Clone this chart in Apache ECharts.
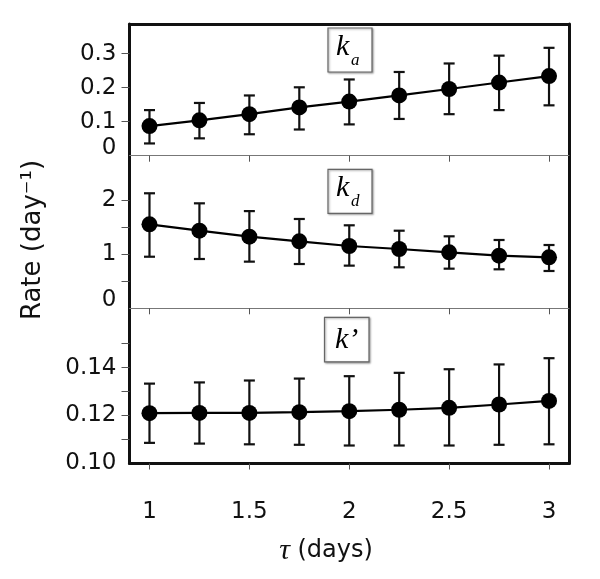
<!DOCTYPE html>
<html><head><meta charset="utf-8">
<script src="https://cdn.jsdelivr.net/npm/echarts@6/dist/echarts.min.js"></script>
<style>html,body{margin:0;padding:0;background:#fff}#c{width:600px;height:579px}</style>
</head><body><div id="c"></div>
<script>
// ---- data ----
const tau = [1, 1.25, 1.5, 1.75, 2, 2.25, 2.5, 2.75, 3];
const xTickValues = [1, 1.5, 2, 2.5, 3];
const xTickLabels = ['1', '1.5', '2', '2.5', '3'];

const ka     = [0.087, 0.104, 0.122, 0.142, 0.159, 0.177, 0.196, 0.215, 0.234];
const kaLow  = [0.036, 0.051, 0.063, 0.077, 0.092, 0.108, 0.122, 0.134, 0.148];
const kaHigh = [0.134, 0.155, 0.177, 0.201, 0.224, 0.246, 0.271, 0.294, 0.317];

const kd     = [1.555, 1.437, 1.326, 1.240, 1.154, 1.098, 1.037, 0.975, 0.944];
const kdLow  = [0.955, 0.913, 0.864, 0.820, 0.790, 0.759, 0.734, 0.722, 0.691];
const kdHigh = [2.130, 1.944, 1.800, 1.654, 1.537, 1.437, 1.333, 1.265, 1.172];

const kp     = [0.1210, 0.1211, 0.1211, 0.1214, 0.1218, 0.1224, 0.1232, 0.1246, 0.1261];
const kpLow  = [0.1086, 0.1083, 0.1080, 0.1078, 0.1075, 0.1075, 0.1075, 0.1078, 0.1080];
const kpHigh = [0.1333, 0.1338, 0.1346, 0.1354, 0.1364, 0.1378, 0.1393, 0.1413, 0.1439];

const kaTickValues = [0.1, 0.2, 0.3];
const kaLabelValues = [0, 0.1, 0.2, 0.3];
const kaLabels = ['0', '0.1', '0.2', '0.3'];
const kdTickValues = [0.5, 1, 1.5, 2];
const kdLabelValues = [0, 1, 2];
const kdLabels = ['0', '1', '2'];
const kpTickValues = [0.11, 0.12, 0.13, 0.14, 0.15];
const kpLabelValues = [0.10, 0.12, 0.14];
const kpLabels = ['0.10', '0.12', '0.14'];

const panelNames = ['k', 'k', 'k’'];
const panelSubs = ['a', 'd', ''];
const yTitle = 'Rate (day⁻¹)';
const xTitle = ' (days)';

// ---- layout ----
const LEFT = 129.5, WIDTH = 439.5;
const panels = [
  {top: 24, height: 131.7, min: 0, max: 0.387, ticks: kaTickValues, lv: kaLabelValues, lt: kaLabels},
  {top: 155.7, height: 152.6, min: 0, max: 2.826, ticks: kdTickValues, lv: kdLabelValues, lt: kdLabels},
  {top: 308.3, height: 155.2, min: 0.10, max: 0.1647, ticks: kpTickValues, lv: kpLabelValues, lt: kpLabels}
];
const FONT = 'DejaVu Sans';
const BLACK = '#111';

const grid = panels.map(p => ({left: LEFT, width: WIDTH, top: p.top, height: p.height, containLabel: false}));

const xAxis = panels.map((p, i) => ({
  type: 'value', gridIndex: i, min: 0.9, max: 3.1, position: 'bottom',
  splitLine: {show: false},
  axisLine: {show: true, onZero: false, lineStyle: i === 2 ? {color: BLACK, width: 3} : {color: '#777', width: 1}},
  axisTick: {show: true, inside: false, length: 6, customValues: xTickValues, lineStyle: {color: '#555', width: 1}},
  axisLabel: {show: i === 2, customValues: xTickValues, margin: 37, color: BLACK, fontFamily: FONT, fontSize: 23,
    formatter: v => { const k = xTickValues.findIndex(t => Math.abs(t - v) < 1e-9); return k >= 0 ? xTickLabels[k] : ''; }}
}));
xAxis.push({
  type: 'value', gridIndex: 0, min: 0.9, max: 3.1, position: 'top',
  splitLine: {show: false}, axisTick: {show: false}, axisLabel: {show: false},
  axisLine: {show: true, onZero: false, lineStyle: {color: BLACK, width: 3}}
});

const yAxis = panels.map((p, i) => ({
  type: 'value', gridIndex: i, min: p.min, max: p.max, position: 'left',
  splitLine: {show: false},
  axisLine: {show: true, onZero: false, lineStyle: {color: BLACK, width: 3}},
  axisTick: {show: true, inside: false, length: 8, customValues: p.ticks, lineStyle: {color: '#555', width: 1}},
  axisLabel: {show: true, customValues: p.lv, margin: 13, color: BLACK, fontFamily: FONT, fontSize: 23,
    formatter: v => {
      const k = p.lv.findIndex(t => Math.abs(t - v) < 1e-9);
      if (k < 0) return '';
      return (i < 2 && k === 0) ? '{up|' + p.lt[k] + '}' : p.lt[k];
    },
    rich: {up: {fontFamily: FONT, fontSize: 23, color: BLACK, padding: [0, 0, 16, 0]}}
  }
}));
panels.forEach((p, i) => yAxis.push({
  type: 'value', gridIndex: i, min: p.min, max: p.max, position: 'right',
  splitLine: {show: false}, axisTick: {show: false}, axisLabel: {show: false},
  axisLine: {show: true, onZero: false, lineStyle: {color: BLACK, width: 3}}
}));

function errSeries(idx, low, high) {
  return {
    type: 'custom', xAxisIndex: idx, yAxisIndex: idx, z: 2, silent: true,
    data: tau.map((t, i) => [t, low[i], high[i]]),
    encode: {x: 0, y: [1, 2]},
    renderItem(params, api) {
      const x = api.value(0);
      const lo = api.coord([x, api.value(1)]);
      const hi = api.coord([x, api.value(2)]);
      const w = 5.5;
      const style = {stroke: BLACK, lineWidth: 2.2};
      return {type: 'group', children: [
        {type: 'line', shape: {x1: lo[0], y1: lo[1], x2: hi[0], y2: hi[1]}, style},
        {type: 'line', shape: {x1: lo[0] - w, y1: lo[1], x2: lo[0] + w, y2: lo[1]}, style},
        {type: 'line', shape: {x1: hi[0] - w, y1: hi[1], x2: hi[0] + w, y2: hi[1]}, style}
      ]};
    }
  };
}
function lineSeries(idx, vals) {
  return {
    type: 'line', xAxisIndex: idx, yAxisIndex: idx, z: 5, silent: true,
    data: tau.map((t, i) => [t, vals[i]]),
    symbol: 'circle', symbolSize: 16, showSymbol: true,
    itemStyle: {color: '#000'}, lineStyle: {color: '#000', width: 2.2}
  };
}

const series = [
  errSeries(0, kaLow, kaHigh), lineSeries(0, ka),
  errSeries(1, kdLow, kdHigh), lineSeries(1, kd),
  errSeries(2, kpLow, kpHigh), lineSeries(2, kp)
];

// ---- annotation boxes ----
const boxes = [
  {x: 328, y: 28, w: 44, h: 44, kx: 336, kBase: 57, sx: 351, sBase: 66},
  {x: 328, y: 169.3, w: 44, h: 44, kx: 336, kBase: 198.3, sx: 351, sBase: 207.3},
  {x: 324.5, y: 317.3, w: 44.5, h: 44.5, kx: 335, kBase: 350, sx: 0, sBase: 0}
];
const graphic = [];
boxes.forEach((b, i) => {
  graphic.push({type: 'rect', z: 100, shape: {x: b.x, y: b.y, width: b.w, height: b.h},
    style: {fill: '#fff', stroke: '#666', lineWidth: 1.2, shadowBlur: 2, shadowOffsetX: 1, shadowOffsetY: 1, shadowColor: 'rgba(0,0,0,0.35)'}});
  graphic.push({type: 'text', z: 101, x: b.kx, y: b.kBase - 10.1,
    style: {text: panelNames[i], font: 'italic 30px "Liberation Serif"', fill: '#000', align: 'left', verticalAlign: 'middle'}});
  if (panelSubs[i]) graphic.push({type: 'text', z: 101, x: b.sx, y: b.sBase - 5.7,
    style: {text: panelSubs[i], font: 'italic 17px "Liberation Serif"', fill: '#000', align: 'left', verticalAlign: 'middle'}});
});
graphic.push({type: 'text', x: 33, y: 240, rotation: Math.PI / 2,
  style: {text: yTitle, font: '26px "DejaVu Sans"', fill: BLACK, align: 'center', verticalAlign: 'middle'}});
graphic.push({type: 'text', x: 326, y: 551,
  style: {text: '{t|τ}' + xTitle, font: '24px "DejaVu Sans"', fill: BLACK, align: 'center', verticalAlign: 'middle',
    rich: {t: {fontFamily: 'Liberation Serif', fontStyle: 'italic', fontSize: 30, fill: BLACK}}}});

const chart = echarts.init(document.getElementById('c'), null, {renderer: 'canvas'});
chart.setOption({animation: false, backgroundColor: '#fff', grid, xAxis, yAxis, series, graphic});
</script>
</body></html>
